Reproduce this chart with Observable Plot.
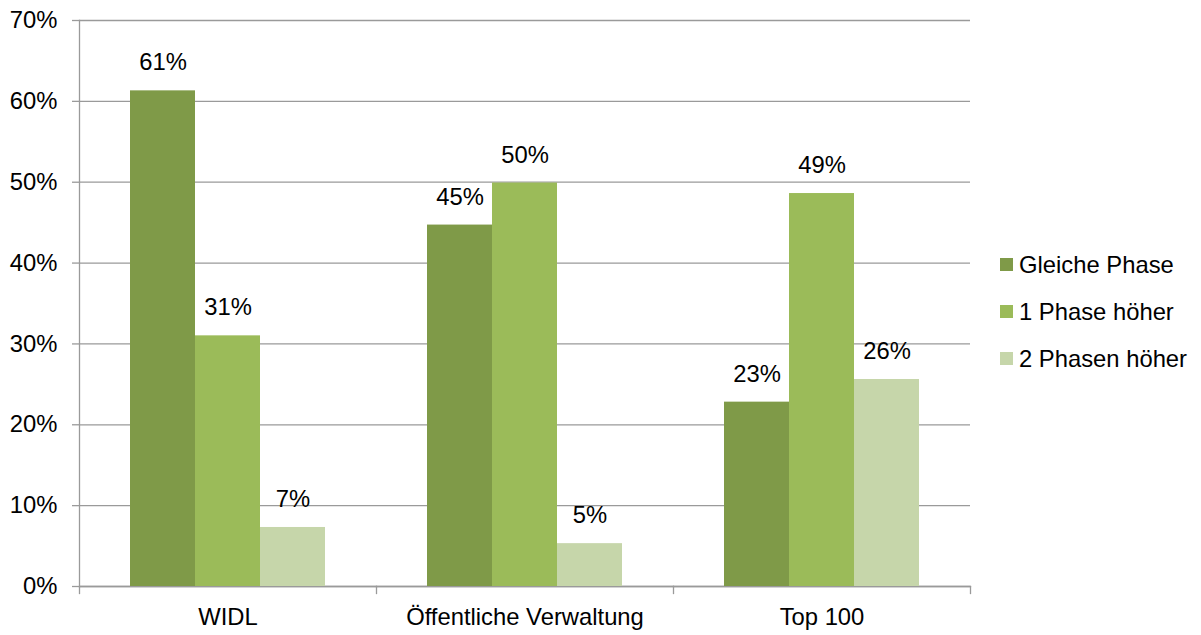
<!DOCTYPE html>
<html>
<head>
<meta charset="utf-8">
<script src="https://cdn.jsdelivr.net/npm/d3@7"></script>
<script src="https://cdn.jsdelivr.net/npm/@observablehq/plot@0.6"></script>
<style>
  html, body { margin: 0; padding: 0; background: #fff; }
  #wrap { position: relative; width: 1201px; height: 635px; font-family: "Liberation Sans", Arial, sans-serif; }
  #legend { position: absolute; left: 1000px; top: 241px; font-size: 23.8px; color: #000; }
  .row { display: flex; align-items: center; height: 47px; white-space: nowrap; }
  .sw { width: 13px; height: 13px; margin-right: 6px; flex: none; }
</style>
</head>
<body>
<div id="wrap"><div id="legend"></div></div>
<script>
const categories = ["WIDL", "Öffentliche Verwaltung", "Top 100"];
const series = ["Gleiche Phase", "1 Phase höher", "2 Phasen höher"];
const gleichePhase = [61.3, 44.7, 22.8];
const einePhaseHoeher = [31.0, 49.9, 48.6];
const zweiPhasenHoeher = [7.3, 5.3, 25.6];
const valueLabels = [["61%", "45%", "23%"], ["31%", "50%", "49%"], ["7%", "5%", "26%"]];
const yTicks = [0, 10, 20, 30, 40, 50, 60, 70];
const colors = ["#7f9a48", "#9bbb59", "#c6d6aa"];

const seriesValues = [gleichePhase, einePhaseHoeher, zweiPhasenHoeher];
const rows = [];
categories.forEach((c, ci) => {
  series.forEach((s, si) => {
    rows.push({cat: c, series: s, value: seriesValues[si][ci], label: valueLabels[si][ci]});
  });
});

const W = 1201, H = 635, mL = 78, mR = 231, mT = 20, mB = 49;
const innerH = H - mT - mB;
const grey = "#9a9a9a";

const chart = Plot.plot({
  width: W, height: H,
  marginLeft: mL, marginRight: mR, marginTop: mT, marginBottom: mB,
  style: {fontFamily: "'Liberation Sans', Arial, sans-serif", fontSize: "23.8px", color: "#000", background: "transparent"},
  fx: {domain: categories, padding: 0, label: null, axis: null},
  x: {domain: series, paddingInner: 0, paddingOuter: 0.76, axis: null},
  y: {domain: [0, 70], label: null},
  color: {domain: series, range: colors},
  marks: [
    Plot.gridY(yTicks, {stroke: grey, strokeOpacity: 1, strokeWidth: 1.3}),
    Plot.axisY(yTicks, {tickSize: 7, tickPadding: 15, stroke: grey, strokeWidth: 1.3, tickFormat: d => d + "%", fill: "#000", label: null}),
    Plot.axisFx({anchor: "bottom", tickSize: 0, tickPadding: 22, label: null, fill: "#000"}),
    Plot.frame({anchor: "bottom", stroke: grey, strokeWidth: 1.3}),
    Plot.frame({anchor: "left", stroke: grey, strokeWidth: 1.3, insetTop: innerH, insetBottom: -7}),
    Plot.frame({anchor: "right", stroke: grey, strokeWidth: 1.3, insetTop: innerH, insetBottom: -7, fx: [categories[2]]}),
    Plot.frame({anchor: "left", stroke: grey, strokeWidth: 1.3, fx: [categories[0]]}),
    Plot.barY(rows, {fx: "cat", x: "series", y: "value", fill: "series"}),
    Plot.text(rows, {fx: "cat", x: "series", y: "value", text: "label", dy: -28, lineAnchor: "middle", fill: "#000", fontSize: 23.8})
  ]
});
document.getElementById("wrap").prepend(chart);

const legend = document.getElementById("legend");
series.forEach((s, i) => {
  const row = document.createElement("div");
  row.className = "row";
  const sw = document.createElement("span");
  sw.className = "sw";
  sw.style.background = colors[i];
  const t = document.createElement("span");
  t.textContent = s;
  row.appendChild(sw);
  row.appendChild(t);
  legend.appendChild(row);
});
</script>
</body>
</html>
